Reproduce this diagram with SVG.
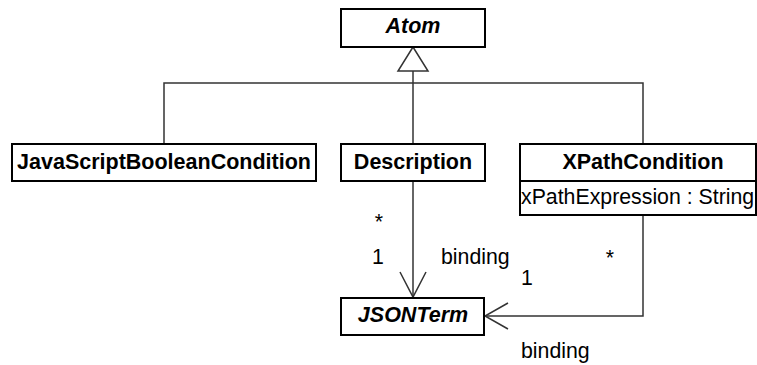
<svg xmlns="http://www.w3.org/2000/svg" width="757" height="365" viewBox="0 0 757 365">
  <style>
    .box { fill: #ffffff; stroke: #000000; stroke-width: 2; }
    .name { font-family: "Liberation Sans", Arial, sans-serif; font-size: 21.5px; font-weight: bold; text-anchor: middle; fill: #000000; }
    .abstract { font-style: italic; }
    .attr { font-family: "Liberation Sans", Arial, sans-serif; font-size: 21.3px; fill: #000000; }
    .label { font-family: "Liberation Sans", Arial, sans-serif; font-size: 21.3px; fill: #000000; }
    .mid { text-anchor: middle; }
    .edge { fill: none; stroke: #333333; stroke-width: 1.5; }
    .head { fill: #ffffff; stroke: #333333; stroke-width: 1.5; }
  </style>
  <rect width="757" height="365" fill="#ffffff"/>

  <!-- connectors -->
  <g id="connectors">
    <!-- generalization: subclasses to Atom -->
    <path class="edge" d="M164,143 V83 H643 V143"/>
    <path class="edge" d="M413,143 V71"/>
    <polygon class="head" points="413,47 398,71 428,71"/>
    <!-- Description -> JSONTerm (binding) -->
    <path class="edge" d="M413,181 V297"/>
    <path class="edge" d="M400,272 L413,297 L426,272"/>
    <!-- XPathCondition -> JSONTerm (binding) -->
    <path class="edge" d="M643,215 V316 H485"/>
    <path class="edge" d="M508,303 L485,316 L508,329"/>
    <!-- association end labels -->
    <text class="label mid" x="379" y="229">*</text>
    <text class="label mid" x="378" y="264">1</text>
    <text class="label" x="441" y="264">binding</text>
    <text class="label mid" x="610" y="265">*</text>
    <text class="label mid" x="527" y="285">1</text>
    <text class="label" x="521" y="358">binding</text>
  </g>

  <g id="atom">
    <rect class="box" x="341" y="9" width="144" height="38"/>
    <text class="name abstract" x="413" y="33">Atom</text>
  </g>

  <g id="javascript-boolean-condition">
    <rect class="box" x="12" y="144" width="304" height="37"/>
    <text class="name" x="164" y="169">JavaScriptBooleanCondition</text>
  </g>

  <g id="description">
    <rect class="box" x="341" y="144" width="144" height="37"/>
    <text class="name" x="413" y="169">Description</text>
  </g>

  <g id="xpath-condition">
    <rect class="box" x="520" y="144" width="236" height="71"/>
    <line class="box" x1="520" y1="181" x2="756" y2="181"/>
    <text class="name" x="643" y="169">XPathCondition</text>
    <text class="attr" x="521" y="204">xPathExpression : String</text>
  </g>

  <g id="json-term">
    <rect class="box" x="341" y="298" width="143" height="37"/>
    <text class="name abstract" x="413" y="322">JSONTerm</text>
  </g>
</svg>
